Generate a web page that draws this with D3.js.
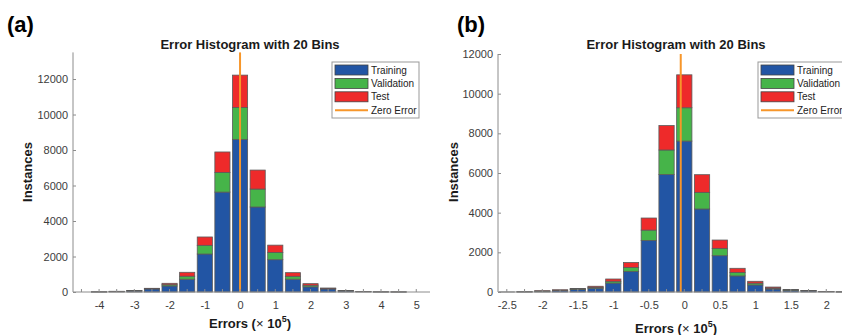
<!DOCTYPE html>
<html>
<head>
<meta charset="utf-8">
<script src="https://cdn.jsdelivr.net/npm/d3@7"></script>
<style>
  body { margin: 0; background: #fff; }
  svg { display: block; font-family: "Liberation Sans", Arial, sans-serif; }
  .tick text { fill: #3c3c3c; font-size: 11px; }
</style>
</head>
<body>
<div id="chart"></div>
<script>
// panel (a)
const binsA  = [-4.5, -4, -3.5, -3, -2.5, -2, -1.5, -1, -0.5, 0, 0.5, 1, 1.5, 2, 2.5, 3, 3.5, 4, 4.5, 5];
const trainA = [0, 5, 25, 60, 170, 340, 720, 2140, 5630, 8600, 4790, 1820, 720, 290, 170, 60, 20, 5, 2, 0];
const valA   = [0, 2, 8, 15, 25, 70, 170, 490, 1110, 1800, 1010, 410, 165, 90, 30, 15, 5, 2, 1, 0];
const testA  = [0, 2, 7, 15, 13, 80, 220, 470, 1150, 1820, 1070, 410, 205, 90, 25, 15, 5, 2, 1, 0];
const xTicksA = [-4, -3, -2, -1, 0, 1, 2, 3, 4, 5];
const yTicksA = [0, 2000, 4000, 6000, 8000, 10000, 12000];
const zeroA = 0;

// panel (b)
const binsB  = [-2.5, -2.25, -2, -1.75, -1.5, -1.25, -1, -0.75, -0.5, -0.25, 0, 0.25, 0.5, 0.75, 1, 1.25, 1.5, 1.75, 2, 2.25];
const trainB = [2, 8, 40, 80, 125, 190, 450, 1040, 2600, 5920, 7610, 4185, 1830, 810, 355, 150, 85, 55, 20, 5];
const valB   = [0, 1, 10, 15, 25, 45, 90, 200, 520, 1240, 1680, 840, 370, 170, 90, 45, 20, 12, 5, 2];
const testB  = [0, 1, 10, 15, 30, 55, 115, 250, 610, 1230, 1660, 890, 420, 215, 95, 55, 25, 13, 5, 2];
const xTicksB = [-2.5, -2, -1.5, -1, -0.5, 0, 0.5, 1, 1.5, 2];
const yTicksB = [0, 2000, 4000, 6000, 8000, 10000, 12000];
const zeroB = -0.05;

const seriesNames = ["Training", "Validation", "Test"];
const colors = ["#2255a4", "#46b449", "#ee2a2a"];
const zeroColor = "#f7962a";

const svg = d3.select("#chart").append("svg")
  .attr("width", 842)
  .attr("height", 335);

// plain hyphen minus like the original
const fmt = d => String(d);

function drawPanel(p) {
  const g = svg.append("g");

  const x = d3.scaleLinear().domain(p.xDomain).range([p.left, p.right]);
  const y = d3.scaleLinear().domain([0, p.yMax]).range([p.bottom, p.top]);

  const step = Math.abs(x(p.bins[1]) - x(p.bins[0]));
  const bw = step * 0.86;

  // stacked bars
  const rows = p.bins.map((b, i) => ({ bin: b, vals: [p.train[i], p.val[i], p.test[i]] }));
  rows.forEach(r => {
    let base = 0;
    r.vals.forEach((v, k) => {
      g.append("rect")
        .attr("x", x(r.bin) - bw / 2)
        .attr("y", y(base + v))
        .attr("width", bw)
        .attr("height", y(base) - y(base + v))
        .attr("fill", colors[k])
        .attr("stroke", "#5a5a5a")
        .attr("stroke-width", 0.8);
      base += v;
    });
  });

  // zero error line
  g.append("line")
    .attr("x1", x(p.zero)).attr("x2", x(p.zero))
    .attr("y1", p.top).attr("y2", p.bottom)
    .attr("stroke", zeroColor)
    .attr("stroke-width", 2);

  // axes
  const xAxis = d3.axisBottom(x).tickValues(p.xTicks).tickSize(0).tickPadding(9).tickFormat(fmt);
  const xg = g.append("g").attr("transform", "translate(0," + p.bottom + ")").call(xAxis);
  xg.select(".domain").remove();

  // minor ticks at each bin center
  g.selectAll(null).data(p.bins).enter().append("line")
    .attr("x1", d => x(d)).attr("x2", d => x(d))
    .attr("y1", p.bottom).attr("y2", p.bottom - 3)
    .attr("stroke", "#8c8c8c");

  const yAxis = d3.axisLeft(y).tickValues(p.yTicks).tickSize(-3).tickPadding(5).tickFormat(fmt);
  const yg = g.append("g").attr("transform", "translate(" + p.left + ",0)").call(yAxis);
  yg.select(".domain").remove();
  yg.selectAll(".tick line").attr("stroke", "#8c8c8c");

  g.append("line")
    .attr("x1", p.left).attr("x2", p.left)
    .attr("y1", p.top).attr("y2", p.bottom)
    .attr("stroke", "#8c8c8c");
  g.append("line")
    .attr("x1", p.left).attr("x2", p.right)
    .attr("y1", p.bottom).attr("y2", p.bottom)
    .attr("stroke", "#8c8c8c");

  // title
  g.append("text")
    .attr("x", p.titleX).attr("y", 49)
    .attr("text-anchor", "middle")
    .attr("font-size", 13).attr("font-weight", "bold").attr("fill", "#1a1a1a")
    .text("Error Histogram with 20 Bins");

  // axis labels
  g.append("text")
    .attr("transform", "translate(" + p.yLabelX + ",172) rotate(-90)")
    .attr("text-anchor", "middle")
    .attr("font-size", 13).attr("font-weight", "bold").attr("fill", "#1a1a1a")
    .text("Instances");

  const xl = g.append("text")
    .attr("x", p.titleX).attr("y", p.xLabelY)
    .attr("text-anchor", "middle")
    .attr("font-size", 13).attr("font-weight", "bold").attr("fill", "#1a1a1a");
  xl.append("tspan").text("Errors (");
  xl.append("tspan").attr("font-weight", "normal").text("\u00d7 ");
  xl.append("tspan").text("10");
  xl.append("tspan").attr("font-size", 9).attr("dy", -6).text("5");
  xl.append("tspan").attr("dy", 6).text(")");

  // panel letter
  g.append("text")
    .attr("x", p.letterX).attr("y", 32)
    .attr("font-size", 22).attr("font-weight", "bold").attr("fill", "#000")
    .text(p.letter);

  // legend
  const lx = p.legendX, ly = 62;
  g.append("rect")
    .attr("x", lx).attr("y", ly).attr("width", 87).attr("height", 56)
    .attr("fill", "#fff").attr("stroke", "#999").attr("stroke-width", 1);
  seriesNames.forEach((name, k) => {
    const cy = ly + 8 + k * 13.4;
    g.append("rect")
      .attr("x", lx + 3).attr("y", cy - 5).attr("width", 33).attr("height", 10)
      .attr("fill", colors[k]).attr("stroke", "#444").attr("stroke-width", 0.8);
    g.append("text")
      .attr("x", lx + 39).attr("y", cy + 3.5)
      .attr("font-size", 10).attr("fill", "#222")
      .text(name);
  });
  const zy = ly + 8 + 3 * 13.4;
  g.append("line")
    .attr("x1", lx + 3).attr("x2", lx + 36).attr("y1", zy).attr("y2", zy)
    .attr("stroke", zeroColor).attr("stroke-width", 2);
  g.append("text")
    .attr("x", lx + 39).attr("y", zy + 3.5)
    .attr("font-size", 10).attr("fill", "#222")
    .text("Zero Error");
}

drawPanel({
  bins: binsA, train: trainA, val: valA, test: testA,
  xTicks: xTicksA, yTicks: yTicksA, zero: zeroA,
  xDomain: [-4.74, 5.39], left: 73, right: 430,
  yMax: 13500, top: 52.4, bottom: 292,
  titleX: 250, xLabelY: 328, yLabelX: 32, letterX: 7, letter: "(a)", legendX: 332
});

drawPanel({
  bins: binsB, train: trainB, val: valB, test: testB,
  xTicks: xTicksB, yTicks: yTicksB, zero: zeroB,
  xDomain: [-2.624, 2.475], left: 498, right: 860,
  yMax: 12000, top: 54, bottom: 292,
  titleX: 676, xLabelY: 333, yLabelX: 458, letterX: 457, letter: "(b)", legendX: 758
});
</script>
</body>
</html>
